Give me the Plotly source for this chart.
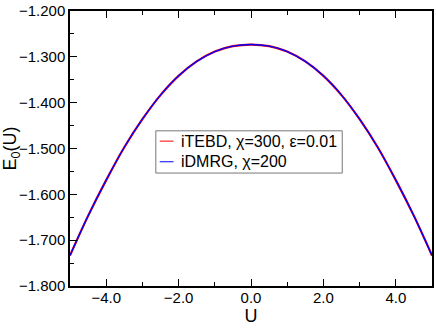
import plotly.graph_objects as go

U = [-5.0, -4.5, -4.0, -3.5, -3.0, -2.5, -2.0, -1.5, -1.0, -0.5, 0.0,
     0.5, 1.0, 1.5, 2.0, 2.5, 3.0, 3.5, 4.0, 4.5, 5.0]
E_half = [-1.2732, -1.2767, -1.2885, -1.3100, -1.3415, -1.3835, -1.4360,
          -1.4973, -1.5690, -1.6470, -1.7335]
E_itebd = E_half[::-1] + E_half[1:]
E_idmrg = E_half[::-1] + E_half[1:]

x_ticks = [-4, -2, 0, 2, 4]
y_ticks = [-1.8, -1.7, -1.6, -1.5, -1.4, -1.3, -1.2]
names = ["iTEBD, χ=300, ε=0.01", "iDMRG, χ=200"]
colors = ["#ff0000", "#0000ff"]

font = "Liberation Sans, Arial, sans-serif"
W, H = 436, 329
ML, MR, MT, MB = 67, 2, 6, 43
PW, PH = W - ML - MR, H - MT - MB

def px(x):
    return (x - ML) / PW

def py(y):
    return (H - MB - y) / PH

fig = go.Figure()
fig.add_trace(go.Scatter(x=U, y=E_itebd, mode="lines", name=names[0], showlegend=False,
                         line=dict(color=colors[0], width=2.2, shape="spline", smoothing=1.0)))
fig.add_trace(go.Scatter(x=U, y=E_idmrg, mode="lines", name=names[1], showlegend=False,
                         line=dict(color=colors[1], width=1.4, shape="spline", smoothing=1.0)))

axis_common = dict(showgrid=False, zeroline=False, showline=True, linecolor="black",
                   linewidth=1.5, ticks="inside", tickcolor="black", tickwidth=1,
                   ticklen=7, ticklabeloverflow="allow",
                   tickfont=dict(size=15, color="black", family=font))

fig.update_xaxes(range=[-5, 5], tickvals=x_ticks, tickformat=".1f", mirror="ticks",
                 ticklabelstandoff=-3,
                 minor=dict(dtick=1, ticks="inside", ticklen=4, tickcolor="black", tickwidth=1),
                 title=dict(text="U", font=dict(size=18, color="black", family=font), standoff=5),
                 **axis_common)
fig.update_yaxes(range=[-1.8, -1.2], tickvals=y_ticks, tickformat=".3f", mirror=True,
                 minor=dict(dtick=0.05, ticks="inside", ticklen=4, tickcolor="black", tickwidth=1),
                 title=dict(text="E<sub>0</sub>(U)", font=dict(size=18, color="black", family=font), standoff=4),
                 **axis_common)

# legend box drawn by hand
fig.add_shape(type="rect", xref="paper", yref="paper",
              x0=px(154), x1=px(343), y0=py(171), y1=py(128),
              fillcolor="white", line=dict(color="#777777", width=1), layer="above")
for i, (nm, c) in enumerate(zip(names, colors)):
    yy = 138.5 + 21 * i
    fig.add_shape(type="line", xref="paper", yref="paper",
                  x0=px(158), x1=px(172), y0=py(yy), y1=py(yy),
                  line=dict(color=c, width=1), layer="above")
    fig.add_annotation(xref="paper", yref="paper", x=px(178), y=py(yy),
                       xanchor="left", yanchor="middle", text=nm, showarrow=False,
                       font=dict(size=16, color="black", family=font))

fig.update_layout(
    width=W, height=H,
    margin=dict(l=ML, r=MR, t=MT, b=MB),
    paper_bgcolor="white", plot_bgcolor="white",
    font=dict(family=font, color="black"),
    showlegend=False,
)

fig.write_html("out.html", config={"displayModeBar": False},
               post_script="document.body.style.margin='0';")
